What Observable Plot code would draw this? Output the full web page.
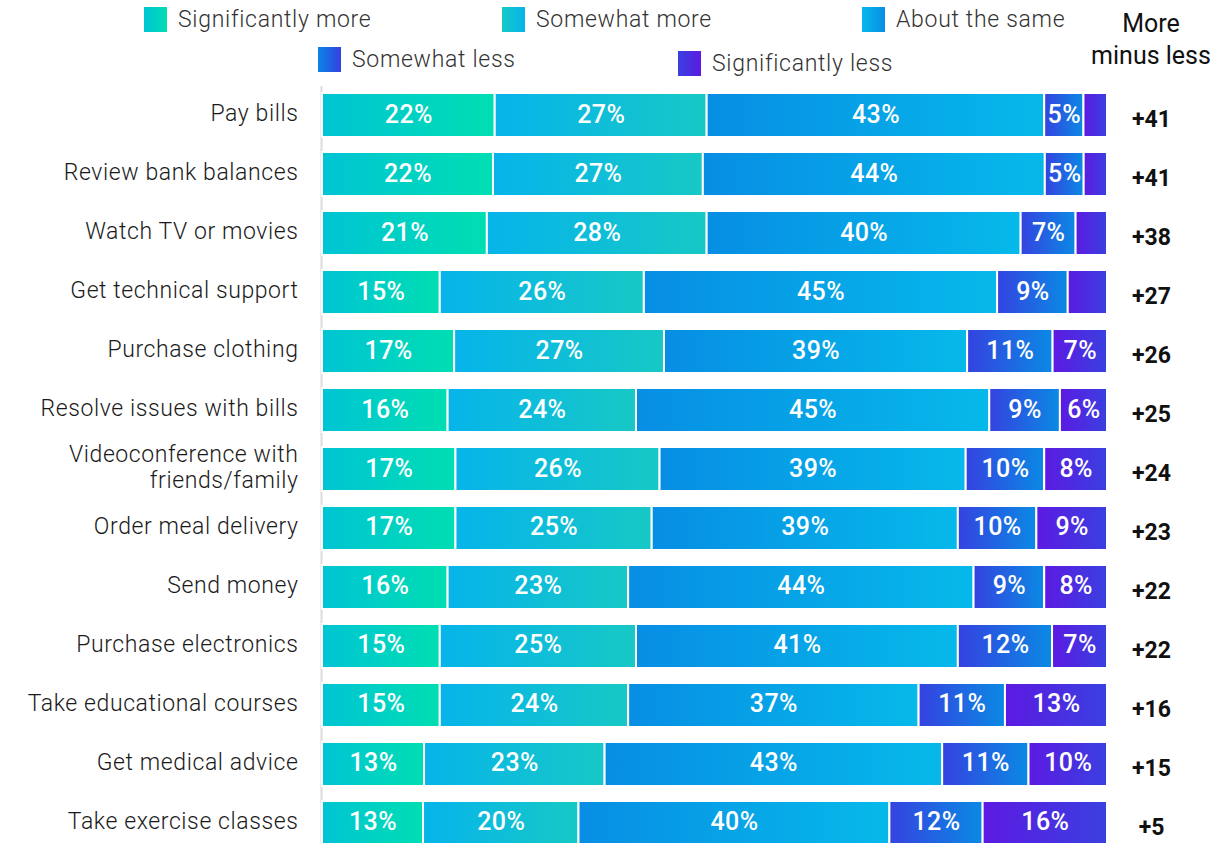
<!DOCTYPE html>
<html><head><meta charset="utf-8">
<script src="https://cdn.jsdelivr.net/npm/d3@7"></script>
<script src="https://cdn.jsdelivr.net/npm/@observablehq/plot@0.6"></script>
<style>
body{margin:0;background:#fff;overflow:hidden;font-family:Roboto,sans-serif;}
#legend{position:relative;height:78px;width:1217px;}
#chart{height:765px;}
#chart svg{display:block;}
.item{position:absolute;display:flex;align-items:center;font-size:23px;color:#333;font-weight:300;white-space:nowrap;letter-spacing:0.7px;}
.sw{width:23px;height:25px;margin-right:11px;}
.hdr{position:absolute;left:1086px;top:8px;width:130px;text-align:center;font-size:25px;line-height:32px;color:#111;font-weight:400;}
</style></head><body>
<div id="legend"></div>
<div id="chart"></div>
<script>
const categories = ["Pay bills","Review bank balances","Watch TV or movies","Get technical support","Purchase clothing","Resolve issues with bills","Videoconference with\nfriends/family","Order meal delivery","Send money","Purchase electronics","Take educational courses","Get medical advice","Take exercise classes"];
const seriesNames = ["Significantly more","Somewhat more","About the same","Somewhat less","Significantly less"];
const sigMore  = [22,22,21,15,17,16,17,17,16,15,15,13,13];
const someMore = [27,27,28,26,27,24,26,25,23,25,24,23,20];
const same     = [43,44,40,45,39,45,39,39,44,41,37,43,40];
const someLess = [5,5,7,9,11,9,10,10,9,12,11,11,12];
const sigLess  = [3,3,4,5,7,6,8,9,8,7,13,10,16];
const sigLessLabeled = [false,false,false,false,true,true,true,true,true,true,true,true,true];
const net = [41,41,38,27,26,25,24,23,22,22,16,15,5];

const barGrads = [["#00c4d4","#00deb2"],["#06b4ea","#17c8c6"],["#078ee4","#06b9ea"],["#3542e0","#0a8ae4"],["#5c1ae2","#3a40e0"]];
const legendGrads = [["#00c4d4","#00deb2"],["#17c8c6","#06b4ea"],["#06b9ea","#078ee4"],["#0a84e6","#3540e0"],["#3a40e0","#5c1ae2"]];
const legendPos = [[144,6],[502,6],[862,6],[318,46],[678,50]];

// legend
const leg = document.getElementById("legend");
seriesNames.forEach((s,j)=>{
  const it = document.createElement("div");
  it.className="item"; it.style.left=legendPos[j][0]+"px"; it.style.top=legendPos[j][1]+"px";
  const sw = document.createElement("div"); sw.className="sw";
  sw.style.background=`linear-gradient(to right, ${legendGrads[j][0]}, ${legendGrads[j][1]})`;
  const tx = document.createElement("span"); tx.textContent=s;
  it.appendChild(sw); it.appendChild(tx); leg.appendChild(it);
});
const hdr = document.createElement("div"); hdr.className="hdr"; hdr.innerHTML="More<br>minus less"; leg.appendChild(hdr);

const seriesValues = [sigMore, someMore, same, someLess, sigLess];
const rows = categories.flatMap((c,i)=>seriesNames.map((s,j)=>{
  const v = seriesValues[j][i];
  const labeled = j===4 ? sigLessLabeled[i] : true;
  return {cat:c, series:s, idx:j, value:v, label: labeled ? v+"%" : ""};
}));
const netRows = categories.map((c,i)=>({cat:c, net:net[i]}));

const defsMark = () => {
  const defs = d3.create("svg:defs");
  barGrads.forEach(([a,b],i)=>{
    const g = defs.append("linearGradient").attr("id","g"+i);
    g.append("stop").attr("offset","0%").attr("stop-color",a);
    g.append("stop").attr("offset","100%").attr("stop-color",b);
  });
  return defs.node();
};

const chart = Plot.plot({
  width:1217, height:765,
  marginLeft:322, marginRight:110, marginTop:0, marginBottom:0,
  style:{fontFamily:"Roboto, sans-serif", background:"transparent", overflow:"visible"},
  x:{domain:[0,1], axis:null},
  y:{domain:categories, range:[15,767], paddingInner:0.254, paddingOuter:0, round:false},
  color:{type:"identity"},
  marks:[
    defsMark,
    Plot.ruleX([0],{stroke:"#dcdcdc", strokeWidth:2, dx:-1, insetTop:8}),
    Plot.barX(rows, Plot.stackX({x:"value", y:"cat", z:"series", order:seriesNames, offset:"normalize",
      fill:d=>`url(#g${d.idx})`, stroke:"white", strokeWidth:2})),
    Plot.text(rows, Plot.stackX({x:"value", y:"cat", z:"series", order:seriesNames, offset:"normalize",
      text:"label", fill:"white", fontSize:25, fontWeight:500, dy:-1})),
    Plot.axisY({tickSize:0, tickPadding:24, fontSize:23, fontWeight:300, fill:"#1a1a1a", label:null, lineHeight:1.15, dy:-3}),
    Plot.text(netRows, {y:"cat", text:d=>"+"+d.net, frameAnchor:"right", dx:44, dy:4, textAnchor:"middle", fontSize:23, fontWeight:"bold", fill:"#111"})
  ]
});
d3.select(chart).selectAll('g[aria-label="y-axis tick label"] text').style("letter-spacing","0.6px");
d3.select(chart).selectAll('g[aria-label="text"][fill="white"] text').style("letter-spacing","0.4px");
document.getElementById("chart").appendChild(chart);
</script>
</body></html>
